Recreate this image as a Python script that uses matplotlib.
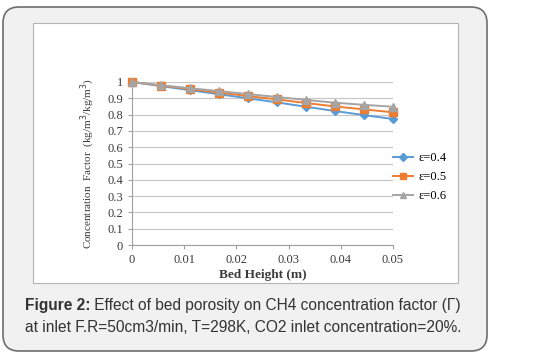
import matplotlib
matplotlib.use('Agg')
import matplotlib.pyplot as plt
from matplotlib.patches import FancyBboxPatch, Rectangle

# Data
bed_height = [0, 0.00556, 0.01111, 0.01667, 0.02222, 0.02778, 0.03333, 0.03889, 0.04444, 0.05]
eps_04 = [1.0, 0.975, 0.950, 0.925, 0.900, 0.875, 0.848, 0.822, 0.797, 0.773]
eps_05 = [1.0, 0.978, 0.957, 0.935, 0.914, 0.893, 0.871, 0.850, 0.832, 0.814]
eps_06 = [1.0, 0.980, 0.962, 0.944, 0.926, 0.908, 0.890, 0.873, 0.860, 0.848]
labels = ['ε=0.4', 'ε=0.5', 'ε=0.6']
colors = ['#5b9bd5', '#ed7d31', '#a5a5a5']
markers = ['D', 's', '^']

W, H = 536, 354
fig = plt.figure(figsize=(W / 100, H / 100), dpi=100)
fig.patch.set_facecolor('white')

# outer rounded panel
panel = FancyBboxPatch((3 / W, 3 / H), 484 / W, 344 / H,
                       boxstyle='round,pad=0,rounding_size=0.03',
                       transform=fig.transFigure, facecolor='#f0f1f0',
                       edgecolor='#6e6e6e', linewidth=1.2, mutation_aspect=W / H,
                       zorder=-2)
fig.patches.append(panel)
# inner white chart area
inner = Rectangle((33 / W, 1 - 283 / H), 425 / W, 260 / H, transform=fig.transFigure,
                  facecolor='white', edgecolor='#b4b4b4', linewidth=0.8, zorder=-1)
fig.patches.append(inner)

ax = fig.add_axes([132 / W, 1 - 245 / H, 261 / W, 163 / H])
ax.set_zorder(5)
ax.set_facecolor('none')

serif = 'Liberation Serif'
for y, lab, c, m in zip([eps_04, eps_05, eps_06], labels, colors, markers):
    ms = 4 if m == 'D' else 5.5
    ax.plot(bed_height, y, color=c, marker=m, markersize=ms, linewidth=1.4,
            label=lab, clip_on=False, zorder=3)

ax.set_xlim(0, 0.05)
ax.set_ylim(0, 1)
ax.set_xticks([0, 0.01, 0.02, 0.03, 0.04, 0.05])
ax.set_xticklabels(['0', '0.01', '0.02', '0.03', '0.04', '0.05'])
ax.set_yticks([i / 10 for i in range(11)])
ax.set_yticklabels(['0', '0.1', '0.2', '0.3', '0.4', '0.5', '0.6', '0.7', '0.8', '0.9', '1'])
ax.grid(axis='y', color='#c8c8c8', linewidth=0.9)
ax.set_axisbelow(True)
for s in ['top', 'right']:
    ax.spines[s].set_visible(False)
for s in ['left', 'bottom']:
    ax.spines[s].set_color('#a0a0a0')
ax.tick_params(axis='both', colors='#a0a0a0', labelcolor='#3a3a3a', length=3,
               labelsize=9)
for t in ax.get_xticklabels() + ax.get_yticklabels():
    t.set_fontfamily(serif)

ax.set_xlabel('Bed Height (m)', fontfamily=serif, fontsize=9.5, fontweight='bold',
              color='#3a3a3a', labelpad=2)
ax.set_ylabel('Concentration  Factor  (kg/m$^3$/kg/m$^3$)', fontfamily=serif,
              fontsize=8, color='#3a3a3a', labelpad=7)

ax.legend(loc='center left', bbox_to_anchor=(382 / W, 1 - 177 / H),
          bbox_transform=fig.transFigure, frameon=False, handlelength=1.6,
          prop={'family': serif, 'size': 9}, labelspacing=0.55, handletextpad=0.4,
          markerscale=0.9)

# caption
cap = dict(fontfamily='Liberation Sans', fontsize=11.2, color='#333333')
t1 = fig.text(25 / W, 1 - 310 / H, 'Figure 2:', fontweight='bold', **cap)
plt.annotate(' Effect of bed porosity on CH4 concentration factor (Γ)', xy=(1, 0),
             xycoords=t1, va='bottom', ha='left', annotation_clip=False, **cap)
fig.text(25 / W, 1 - 332 / H, 'at inlet F.R=50cm3/min, T=298K, CO2 inlet concentration=20%.',
         **cap)

fig.savefig('out.png', dpi=100)
